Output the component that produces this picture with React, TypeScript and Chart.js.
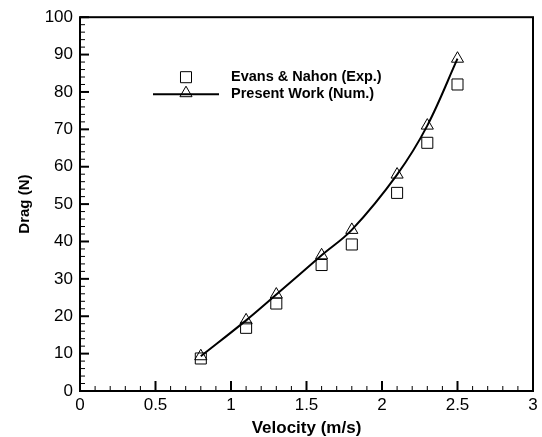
import React, { useEffect, useRef } from 'react';
import { Chart, registerables } from 'chart.js';
import { drawPoint } from 'chart.js/helpers';

Chart.register(...registerables);

const velocity = [0.8, 1.1, 1.3, 1.6, 1.8, 2.1, 2.3, 2.5];
const dragExp = [8.7, 16.9, 23.4, 33.7, 39.2, 53.0, 66.4, 82.0];
const dragNum = [9.3, 18.9, 25.8, 36.3, 43.1, 57.9, 71.0, 88.9];
const xTickValues = [0, 0.5, 1, 1.5, 2, 2.5, 3];
const yTickValues = [0, 10, 20, 30, 40, 50, 60, 70, 80, 90, 100];
const xMinorStep = 0.1;
const yMinorStep = 2;
const seriesLabels = ['Evans & Nahon (Exp.)', 'Present Work (Num.)'];
const xTitle = 'Velocity (m/s)';
const yTitle = 'Drag (N)';

const FONT = "'Liberation Sans', Arial, sans-serif";

const framePlugin = {
  id: 'framePlugin',
  afterDraw(chart: any) {
    const { ctx, chartArea, scales } = chart;
    const { left, right, top, bottom } = chartArea;
    const x = scales.x;
    const y = scales.y;
    ctx.save();
    ctx.strokeStyle = '#000';
    const xMin = xTickValues[0];
    const xMax = xTickValues[xTickValues.length - 1];
    const nx = Math.round((xMax - xMin) / xMinorStep);
    for (let i = 0; i <= nx; i++) {
      const v = xMin + i * xMinorStep;
      const isMajor = xTickValues.some((t) => Math.abs(t - v) < 1e-6);
      const px = x.getPixelForValue(v);
      ctx.lineWidth = isMajor ? 2 : 1;
      const len = isMajor ? 10 : 5;
      ctx.beginPath();
      ctx.moveTo(px, bottom);
      ctx.lineTo(px, bottom - len);
      ctx.stroke();
    }
    const yMin = yTickValues[0];
    const yMax = yTickValues[yTickValues.length - 1];
    const ny = Math.round((yMax - yMin) / yMinorStep);
    for (let i = 0; i <= ny; i++) {
      const v = yMin + i * yMinorStep;
      const isMajor = yTickValues.some((t) => Math.abs(t - v) < 1e-6);
      const py = y.getPixelForValue(v);
      ctx.lineWidth = isMajor ? 2 : 1;
      const len = isMajor ? 9 : 5;
      ctx.beginPath();
      ctx.moveTo(left, py);
      ctx.lineTo(left + len, py);
      ctx.stroke();
    }
    ctx.lineWidth = 2;
    ctx.strokeRect(left, top, right - left, bottom - top);

    // legend
    const ds = chart.data.datasets;
    const mx = left + 106;
    const row1 = top + 60;
    const row2 = top + 77;
    ctx.fillStyle = 'rgba(0,0,0,0)';
    ctx.strokeStyle = '#000';
    ctx.lineWidth = 1;
    drawPoint(ctx, { pointStyle: ds[0].pointStyle, radius: ds[0].pointRadius, rotation: 0, borderWidth: 1 }, mx, row1);
    ctx.lineWidth = 2;
    ctx.beginPath();
    ctx.moveTo(mx - 33, row2);
    ctx.lineTo(mx + 33, row2);
    ctx.stroke();
    ctx.lineWidth = 1;
    ctx.fillStyle = 'rgba(0,0,0,0)';
    drawPoint(ctx, { pointStyle: ds[1].pointStyle, radius: ds[1].pointRadius, rotation: 0, borderWidth: 1 }, mx, row2 - 1);
    ctx.fillStyle = '#000';
    ctx.font = `bold 14.5px ${FONT}`;
    ctx.textBaseline = 'middle';
    ctx.textAlign = 'left';
    ctx.fillText(ds[0].label, mx + 45, row1);
    ctx.fillText(ds[1].label, mx + 45, row2);
    ctx.restore();
  },
};

export default function App() {
  const ref = useRef<HTMLCanvasElement>(null);
  useEffect(() => {
    document.body.style.margin = '0';
    Chart.defaults.font.family = FONT;
    Chart.defaults.color = '#000';
    const chart = new Chart(ref.current!, {
      type: 'scatter',
      data: {
        datasets: [
          {
            label: seriesLabels[0],
            data: velocity.map((v, i) => ({ x: v, y: dragExp[i] })),
            showLine: false,
            pointStyle: 'rect',
            pointRadius: 7.8,
            pointBorderWidth: 1,
            pointBorderColor: '#000',
            pointBackgroundColor: 'rgba(0,0,0,0)',
          },
          {
            label: seriesLabels[1],
            data: velocity.map((v, i) => ({ x: v, y: dragNum[i] })),
            showLine: true,
            tension: 0.35,
            borderColor: '#000',
            borderWidth: 2,
            pointStyle: 'triangle',
            pointRadius: 7,
            pointBorderWidth: 1,
            pointBorderColor: '#000',
            pointBackgroundColor: 'rgba(0,0,0,0)',
          },
        ],
      } as any,
      options: {
        animation: false,
        responsive: false,
        maintainAspectRatio: false,
        layout: { padding: { left: 0, right: 9, top: 15, bottom: 0 } },
        plugins: { legend: { display: false }, tooltip: { enabled: false } },
        scales: {
          x: {
            type: 'linear',
            min: 0,
            max: 3,
            afterBuildTicks: (s: any) => {
              s.ticks = xTickValues.map((v) => ({ value: v }));
            },
            afterFit: (s: any) => {
              s.height = 46;
            },
            grid: { display: false, drawTicks: false },
            border: { display: false },
            ticks: {
              padding: 4,
              font: { size: 17 },
              color: '#000',
              maxRotation: 0,
              autoSkip: false,
              callback: (v: any) => String(v),
            },
            title: {
              display: true,
              text: xTitle,
              font: { size: 17, weight: 'bold', lineHeight: 1 },
              padding: { top: 0, bottom: 0 },
              color: '#000',
            },
          },
          y: {
            type: 'linear',
            min: 0,
            max: 100,
            afterBuildTicks: (s: any) => {
              s.ticks = yTickValues.map((v) => ({ value: v }));
            },
            afterFit: (s: any) => {
              s.width = 80;
            },
            grid: { display: false, drawTicks: false },
            border: { display: false },
            ticks: {
              padding: 7,
              font: { size: 17 },
              color: '#000',
              autoSkip: false,
              callback: (v: any) => String(v),
            },
            title: {
              display: true,
              text: yTitle,
              font: { size: 15, weight: 'bold', lineHeight: 1 },
              padding: { top: 17, bottom: 0 },
              color: '#000',
            },
          },
        },
      } as any,
      plugins: [framePlugin],
    });
    return () => chart.destroy();
  }, []);
  return (
    <div style={{ width: 542, height: 437, background: '#fff' }}>
      <canvas ref={ref} width={542} height={437} style={{ display: 'block', width: 542, height: 437 }} />
    </div>
  );
}
